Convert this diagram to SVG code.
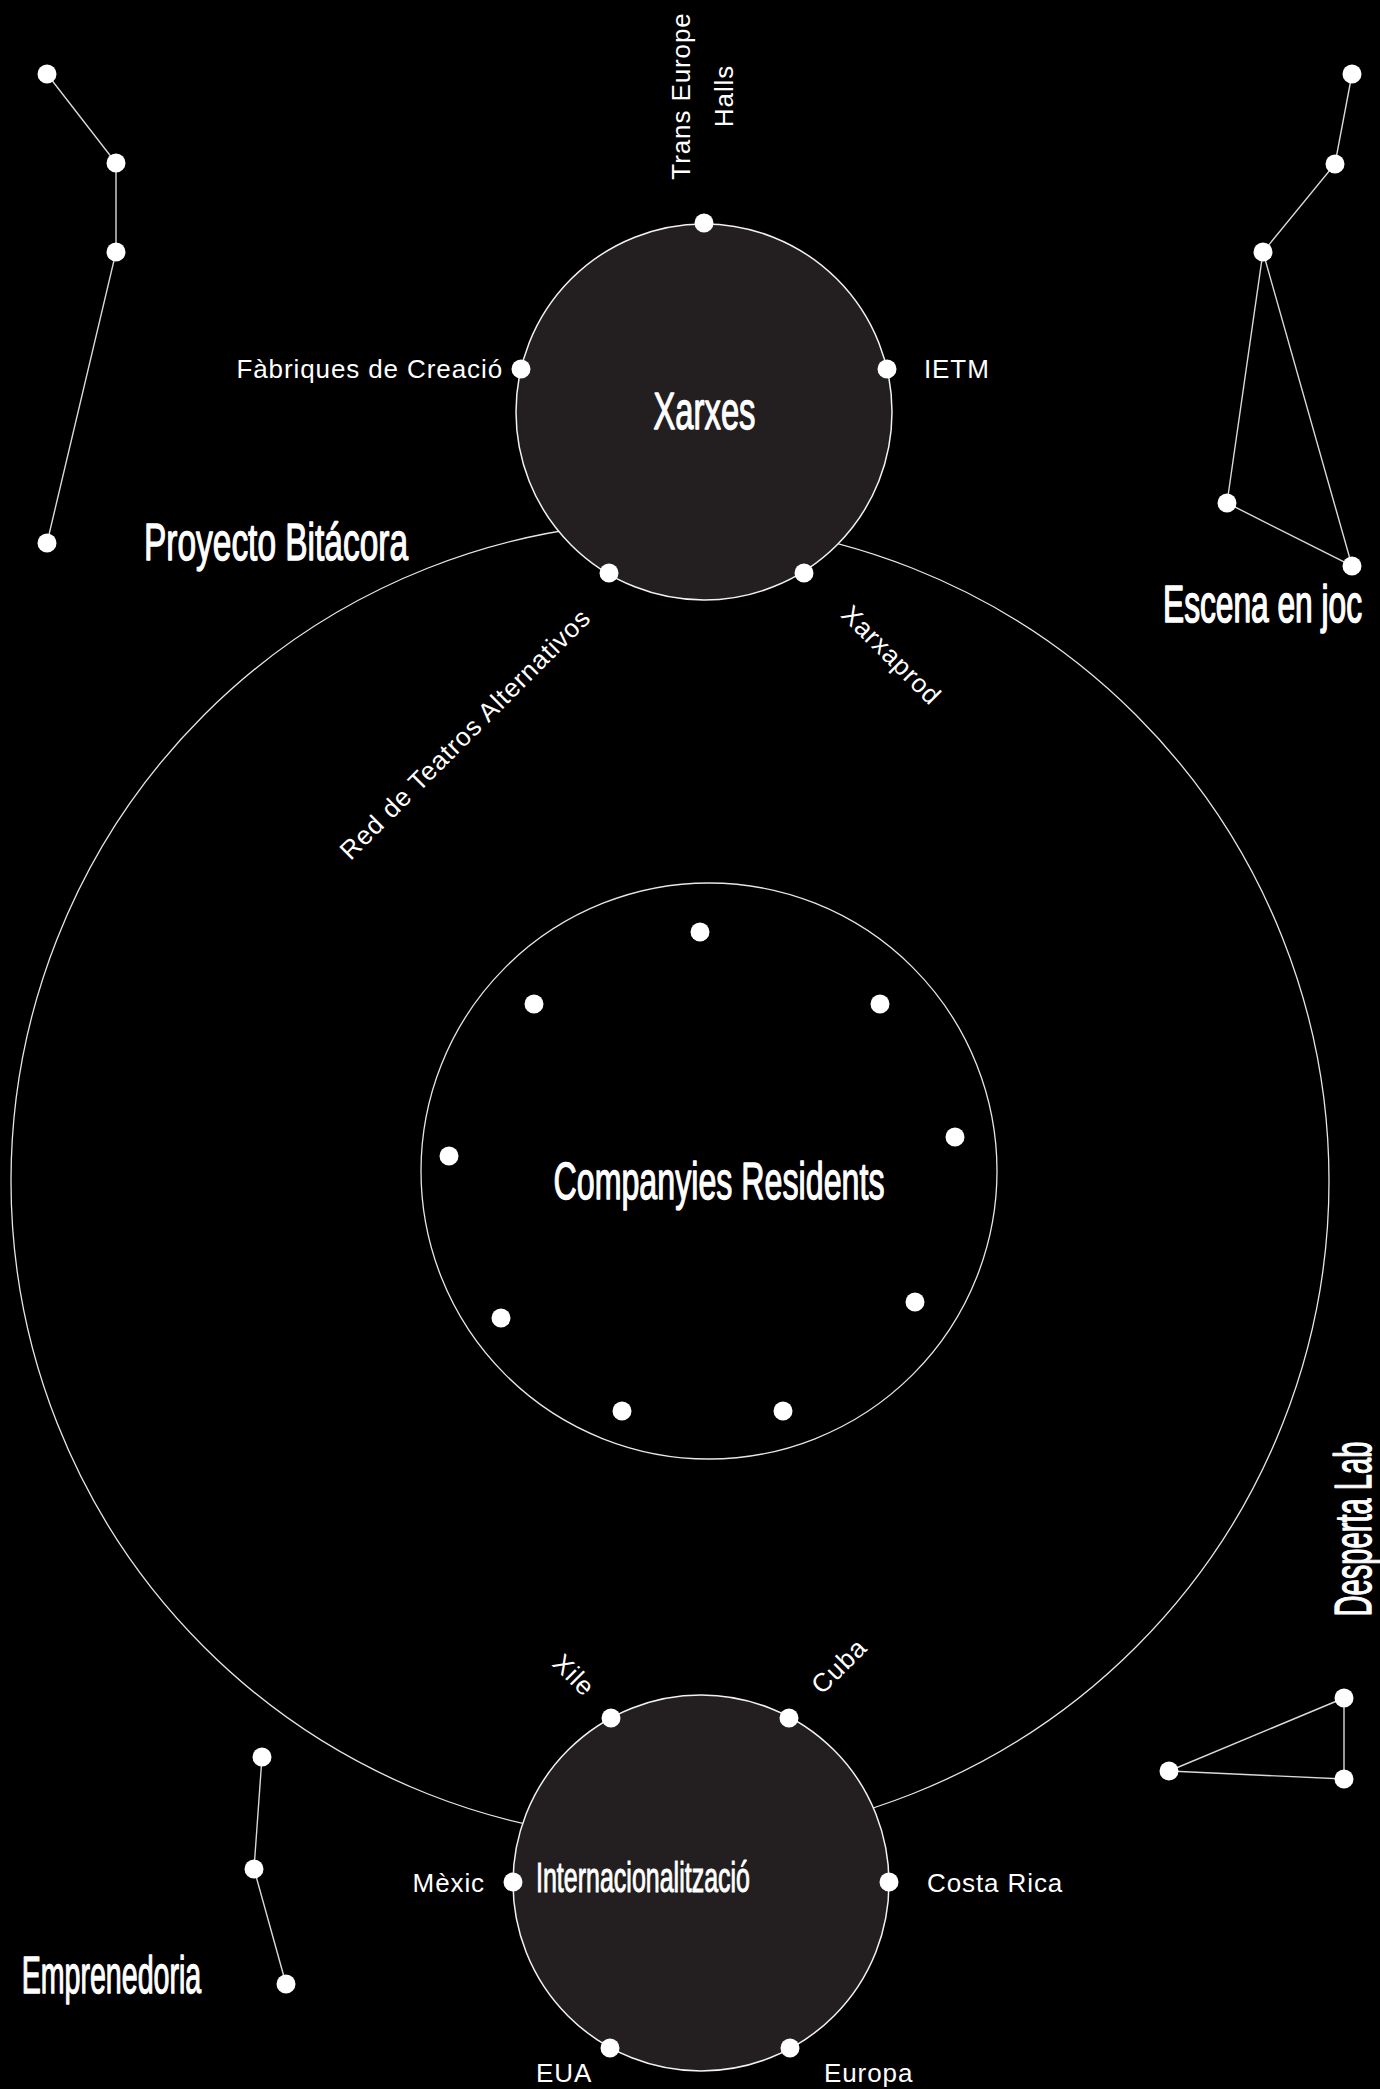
<svg xmlns="http://www.w3.org/2000/svg" width="1380" height="2089" viewBox="0 0 1380 2089">
<style>
.bg{fill:#000}
.ring{fill:none;stroke:#e6e6e6;stroke-width:1.3}
.hub{fill:#231f20;stroke:#f2f2f2;stroke-width:1.5}
.dot{fill:#fff}
.edge{stroke:#d9d9d9;stroke-width:1.4;fill:none}
.lbl{fill:#fff;font-family:"Liberation Sans",Arial,sans-serif;font-size:26px;letter-spacing:0.9px}
.ttl{fill:#fff;stroke:#fff;stroke-width:1.3;stroke-linejoin:round;font-family:"Liberation Sans Narrow","Liberation Sans",Arial,sans-serif;font-weight:normal;font-size:51px}
</style>
<rect class="bg" x="0" y="0" width="1380" height="2089"/>

<g id="proyecto-bitacora">
  <circle class="ring" cx="670" cy="1181" r="659"/>
  <text class="ttl" x="144" y="560" textLength="264" lengthAdjust="spacingAndGlyphs">Proyecto Bitácora</text>
</g>

<g id="companyies-residents">
  <circle class="ring" cx="709" cy="1171" r="288"/>
  <g class="dot">
    <circle cx="700" cy="932" r="9.5"/>
    <circle cx="534" cy="1004" r="9.5"/>
    <circle cx="880" cy="1004" r="9.5"/>
    <circle cx="955" cy="1137" r="9.5"/>
    <circle cx="449" cy="1156" r="9.5"/>
    <circle cx="501" cy="1318" r="9.5"/>
    <circle cx="915" cy="1302" r="9.5"/>
    <circle cx="622" cy="1411" r="9.5"/>
    <circle cx="783" cy="1411" r="9.5"/>
  </g>
  <text class="ttl" x="719" y="1199" text-anchor="middle" textLength="331" lengthAdjust="spacingAndGlyphs">Companyies Residents</text>
</g>

<g id="xarxes">
  <circle class="hub" cx="704" cy="412" r="188"/>
  <g class="dot">
    <circle cx="704" cy="223" r="9.5"/>
    <circle cx="521" cy="369" r="9.5"/>
    <circle cx="887" cy="369" r="9.5"/>
    <circle cx="609" cy="573" r="9.5"/>
    <circle cx="804" cy="573" r="9.5"/>
  </g>
  <text class="ttl" x="704.5" y="429" text-anchor="middle" textLength="102" lengthAdjust="spacingAndGlyphs">Xarxes</text>
  <text class="lbl" transform="translate(690,96) rotate(-90)" text-anchor="middle"><tspan x="0" y="0">Trans Europe</tspan><tspan x="0" y="42.7">Halls</tspan></text>
  <text class="lbl" x="503" y="378" text-anchor="end">Fàbriques de Creació</text>
  <text class="lbl" x="924" y="378">IETM</text>
  <text class="lbl" transform="translate(465,734) rotate(-45)" text-anchor="middle" y="9">Red de Teatros Alternativos</text>
  <text class="lbl" transform="translate(891.5,655) rotate(45)" text-anchor="middle" y="9">Xarxaprod</text>
</g>

<g id="internacionalitzacio">
  <circle class="hub" cx="701" cy="1883" r="188"/>
  <g class="dot">
    <circle cx="611" cy="1718" r="9.5"/>
    <circle cx="789" cy="1718" r="9.5"/>
    <circle cx="513" cy="1882" r="9.5"/>
    <circle cx="889" cy="1882" r="9.5"/>
    <circle cx="610" cy="2048" r="9.5"/>
    <circle cx="790" cy="2048" r="9.5"/>
  </g>
  <text class="ttl" x="643" y="1892" text-anchor="middle" style="font-size:42px;stroke-width:1" textLength="214" lengthAdjust="spacingAndGlyphs">Internacionalització</text>
  <text class="lbl" transform="translate(574,1675) rotate(45)" text-anchor="middle" y="9">Xile</text>
  <text class="lbl" transform="translate(839,1666) rotate(-45)" text-anchor="middle" y="9">Cuba</text>
  <text class="lbl" x="485" y="1892" text-anchor="end">Mèxic</text>
  <text class="lbl" x="927" y="1892">Costa Rica</text>
  <text class="lbl" x="536" y="2082">EUA</text>
  <text class="lbl" x="824" y="2082">Europa</text>
</g>

<g id="connectors">
  <polyline class="edge" points="47,74 116,163 116,252 47,543"/>
  <polyline class="edge" points="1352,74 1335,164 1263,252 1227,503 1352,566 1263,252"/>
  <polyline class="edge" points="262,1757 254,1869 286,1984"/>
  <polygon class="edge" points="1344,1698 1169,1771 1344,1779"/>
</g>

<g id="constellation-top-left">
  <g class="dot">
    <circle cx="47" cy="74" r="9.5"/>
    <circle cx="116" cy="163" r="9.5"/>
    <circle cx="116" cy="252" r="9.5"/>
    <circle cx="47" cy="543" r="9.5"/>
  </g>
</g>

<g id="escena-en-joc">
  <g class="dot">
    <circle cx="1352" cy="74" r="9.5"/>
    <circle cx="1335" cy="164" r="9.5"/>
    <circle cx="1263" cy="252" r="9.5"/>
    <circle cx="1227" cy="503" r="9.5"/>
    <circle cx="1352" cy="566" r="9.5"/>
  </g>
  <text class="ttl" transform="translate(1163,622) scale(0.622,1)" x="0" y="0" style="stroke-width:1.6" textLength="320" lengthAdjust="spacingAndGlyphs">Escena en joc</text>
</g>

<g id="emprenedoria">
  <g class="dot">
    <circle cx="262" cy="1757" r="9.5"/>
    <circle cx="254" cy="1869" r="9.5"/>
    <circle cx="286" cy="1984" r="9.5"/>
  </g>
  <text class="ttl" x="21.7" y="1993" textLength="179.5" lengthAdjust="spacingAndGlyphs">Emprenedoria</text>
</g>

<g id="desperta-lab">
  <g class="dot">
    <circle cx="1344" cy="1698" r="9.5"/>
    <circle cx="1169" cy="1771" r="9.5"/>
    <circle cx="1344" cy="1779" r="9.5"/>
  </g>
  <text class="ttl" transform="translate(1371,1529) rotate(-90)" text-anchor="middle" textLength="175" lengthAdjust="spacingAndGlyphs">Desperta Lab</text>
</g>
</svg>
